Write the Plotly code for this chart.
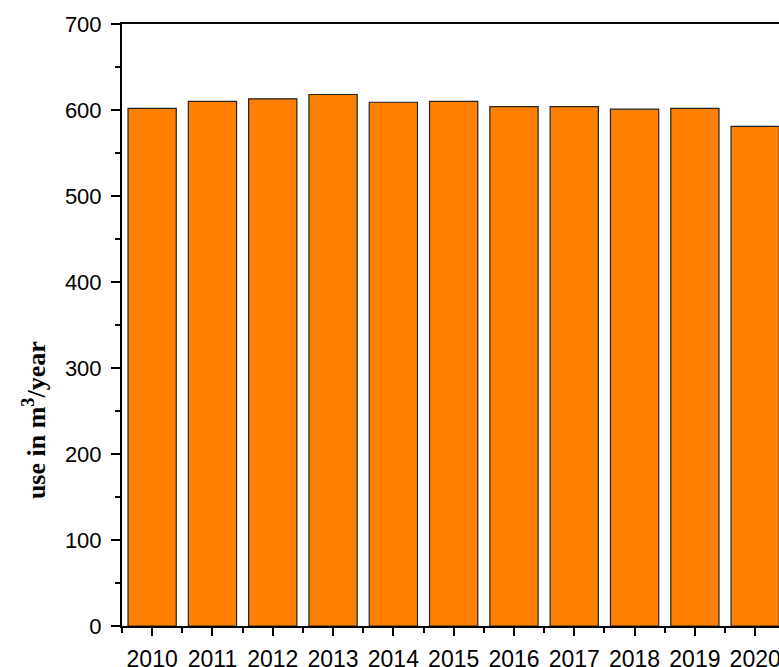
import plotly.graph_objects as go

years = [2010, 2011, 2012, 2013, 2014, 2015, 2016, 2017, 2018, 2019, 2020]
use_m3 = [602, 610, 613, 618, 609, 610, 604, 604, 601, 602, 581]
year_labels = [str(y) for y in years]
y_title = "<b>use in m<sup>3</sup>/year</b>"

fig = go.Figure()
fig.add_trace(go.Bar(
    x=years, y=use_m3, width=0.8,
    marker=dict(color="#FF8000", line=dict(color="#222222", width=1.2)),
))

fig.update_layout(
    width=779, height=667,
    margin=dict(l=122, r=0, t=24, b=41),
    plot_bgcolor="white", paper_bgcolor="white",
    showlegend=False,
    font=dict(family="Liberation Sans, Arial", size=22, color="black"),
)
fig.update_xaxes(
    range=[2009.5, 2020.395], automargin=False,
    tickmode="array", tickvals=years, ticktext=year_labels,
    tickfont=dict(size=23),
    showline=True, linecolor="black", linewidth=2, mirror=True,
    ticks="outside", ticklen=8, tickwidth=2, tickcolor="black",
    minor=dict(tickmode="linear", tick0=2009.5, dtick=1, ticks="outside",
               ticklen=5, tickwidth=2, tickcolor="black"),
    showgrid=False, zeroline=False,
    ticklabelstandoff=3, ticklabeloverflow="allow",
)
fig.update_yaxes(
    range=[0, 700], dtick=100, automargin=False,
    showline=True, linecolor="black", linewidth=2, mirror=False,
    ticks="outside", ticklen=9, tickwidth=2, tickcolor="black",
    minor=dict(dtick=50, ticks="outside", ticklen=5, tickwidth=2, tickcolor="black"),
    showgrid=False, zeroline=False,
    ticklabelstandoff=5,
)
fig.add_annotation(
    text=y_title, xref="paper", yref="paper", x=0, y=0.342,
    xshift=-88, xanchor="center", yanchor="middle", textangle=-90,
    showarrow=False,
    font=dict(family="Liberation Serif, Times New Roman", size=26, color="black"),
)
fig.write_html(
    "out.html",
    config={"displayModeBar": False},
    post_script="document.body.style.margin='0';document.body.style.overflow='hidden';",
)
